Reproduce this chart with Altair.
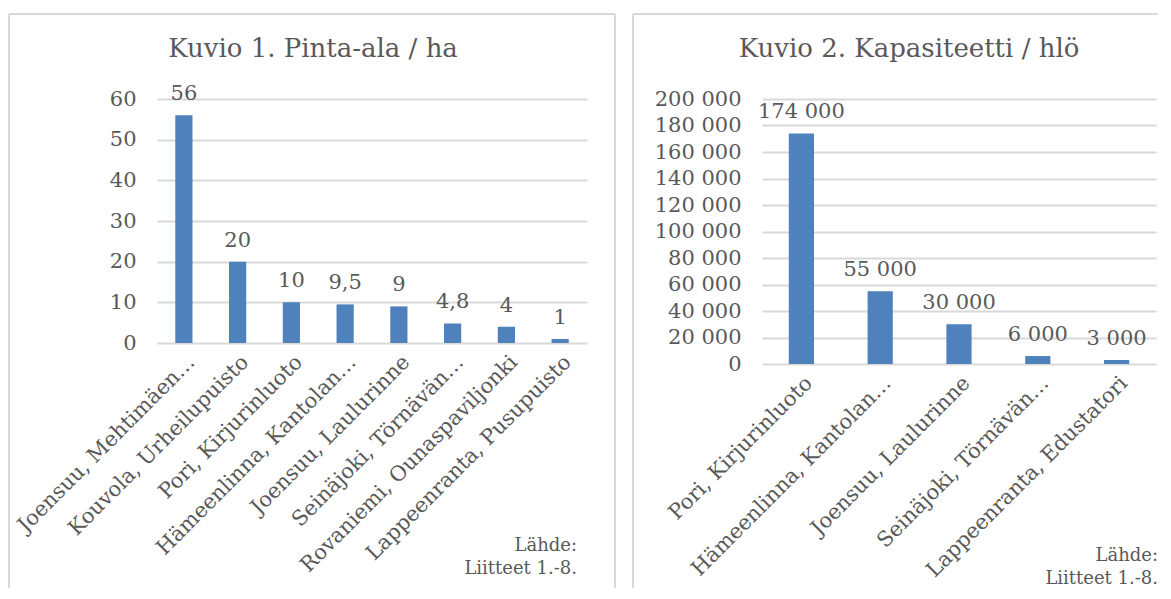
import altair as alt
import pandas as pd

# ---------------- data ----------------
left_title = "Kuvio 1. Pinta-ala / ha"
left_cats = [
    "Joensuu, Mehtimäen…",
    "Kouvola, Urheilupuisto",
    "Pori, Kirjurinluoto",
    "Hämeenlinna, Kantolan…",
    "Joensuu, Laulurinne",
    "Seinäjoki, Törnävän…",
    "Rovaniemi, Ounaspaviljonki",
    "Lappeenranta, Pusupuisto",
]
left_vals = [56, 20, 10, 9.5, 9, 4.8, 4, 1]
left_ticks = [0, 10, 20, 30, 40, 50, 60]

right_title = "Kuvio 2. Kapasiteetti / hlö"
right_cats = [
    "Pori, Kirjurinluoto",
    "Hämeenlinna, Kantolan…",
    "Joensuu, Laulurinne",
    "Seinäjoki, Törnävän…",
    "Lappeenranta, Edustatori",
]
right_vals = [174000, 55000, 30000, 6000, 3000]
right_ticks = [0, 20000, 40000, 60000, 80000, 100000, 120000, 140000, 160000, 180000, 200000]

source_note = "Lähde:\nLiitteet 1.-8."

# ---------------- style ----------------
FONT = "DejaVu Serif"
TXT = "#595959"
BAR = "#4F81BD"
GRID = "#D9D9D9"
BORDER = "#D9D9D9"


def fi_label(v):
    s = f"{v:,}".replace(",", " ") if float(v).is_integer() else f"{v}".replace(".", ",")
    return s


def panel(cats, vals, ticks, ymax, w, h, title, label_expr, geom):
    df = pd.DataFrame({"cat": cats, "val": vals, "lab": [fi_label(v) for v in vals]})
    xenc = alt.X(
        "cat:N", sort=cats, title=None,
        scale=alt.Scale(paddingInner=0.68, paddingOuter=0.34),
        axis=alt.Axis(labelAngle=-45, labelFont=FONT, labelFontSize=21, labelColor=TXT,
                      labelLimit=600, labelOverlap=False, domain=False, ticks=False,
                      labelPadding=8, grid=False),
    )
    yenc = alt.Y(
        "val:Q", title=None,
        scale=alt.Scale(domain=[0, ymax], nice=False, zero=True),
        axis=alt.Axis(values=ticks, labelExpr=label_expr, grid=True, gridColor=GRID,
                      gridWidth=2, domain=False, ticks=False, tickSize=0, labelPadding=21,
                      labelOverlap=False, labelFont=FONT, labelFontSize=21, labelColor=TXT),
    )
    bars = alt.Chart(df).mark_bar(color=BAR).encode(x=xenc, y=yenc)
    vals_txt = alt.Chart(df).mark_text(
        font=FONT, fontSize=21, color=TXT, baseline="alphabetic", dy=-15
    ).encode(x=xenc, y=yenc, text="lab:N")

    one = alt.Data(values=[{"t": title, "n": source_note}])
    ttl = alt.Chart(one).mark_text(
        font=FONT, fontSize=26, color=TXT, baseline="middle", align="center"
    ).encode(x=alt.value(geom["tx"]), y=alt.value(-50), text="t:N")
    note = alt.Chart(one).mark_text(
        font=FONT, fontSize=18, color=TXT, baseline="middle", align="right",
        lineBreak="\n", lineHeight=23,
    ).encode(x=alt.value(geom["nx"]), y=alt.value(geom["ny"]), text="n:N")

    layers = [bars, vals_txt, ttl, note]
    bl, bt, br, bb = geom["border"]
    layers.append(alt.Chart(one).mark_rule(color=BORDER, strokeWidth=2).encode(
        x=alt.value(bl), y=alt.value(bt), y2=alt.value(bb)))
    layers.append(alt.Chart(one).mark_rule(color=BORDER, strokeWidth=2).encode(
        x=alt.value(bl), x2=alt.value(br), y=alt.value(bt)))
    if geom.get("right_side", True):
        layers.append(alt.Chart(one).mark_rule(color=BORDER, strokeWidth=2).encode(
            x=alt.value(br), y=alt.value(bt), y2=alt.value(bb)))
    return alt.layer(*layers).properties(width=w, height=h)


left = panel(
    left_cats, left_vals, left_ticks, 60, 430, 244, left_title,
    "replace(format(datum.value, ','), ',', ' ')",
    {"tx": 156, "nx": 420, "ny": 447, "border": (-148, -85, 458, 489)},
)
right = panel(
    right_cats, right_vals, right_ticks, 200000, 394, 265, right_title,
    "replace(format(datum.value, ','), ',', ' ')",
    {"tx": 147, "nx": 396, "ny": 457, "border": (-129, -85, 396, 489), "right_side": False},
)

chart = (
    alt.hconcat(left, right, spacing=16)
    .properties(padding={"left": 0, "top": 5, "right": 0, "bottom": 0}, background="white")
    .configure_view(stroke=None)
)

chart.save("out.html", embed_options={"renderer": "svg", "actions": False})
